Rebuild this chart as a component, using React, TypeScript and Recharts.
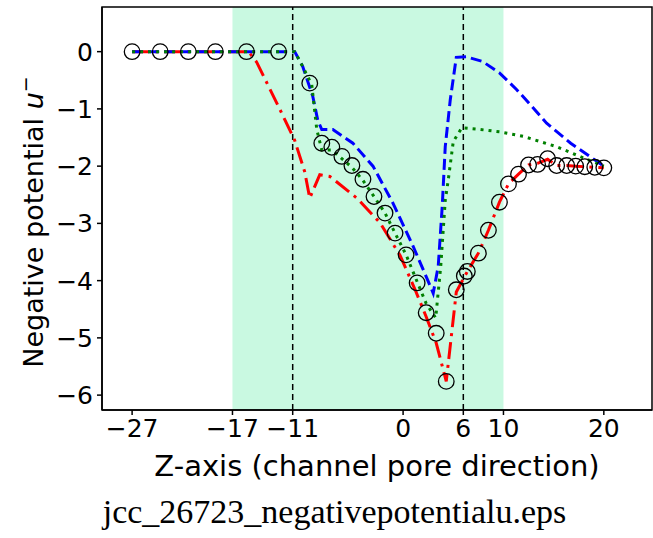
import {
  ComposedChart,
  Line,
  XAxis,
  YAxis,
  ReferenceArea,
  ReferenceLine,
} from "recharts";

// z positions and potential values
const circleZ = [-27, -24.2, -21.4, -18.7, -15.6, -12.4, -9.3, -8.1, -7.1, -6.1, -5.1, -4.0, -2.9, -1.8, -0.8, 0.3, 1.4, 2.3, 3.3, 4.3, 5.3, 6.1, 6.4, 7.5, 8.5, 9.6, 10.5, 11.5, 12.5, 13.4, 14.4, 15.3, 16.3, 17.2, 18.1, 19.1, 20];
const circleU = [0, 0, 0, 0, 0, 0, -0.55, -1.6, -1.67, -1.83, -1.99, -2.23, -2.53, -2.82, -3.17, -3.55, -4.04, -4.56, -4.92, -5.76, -4.16, -3.92, -3.84, -3.52, -3.12, -2.63, -2.31, -2.14, -1.98, -1.97, -1.87, -1.99, -1.99, -2.0, -2.01, -2.02, -2.03];

const redZ = [-27, -15.4, -14.6, -12.3, -10.8, -9.8, -9.3, -8.3, -7.3, -4.6, -2.3, -0.3, 1.2, 2.3, 3.3, 4.3, 5.3, 6.4, 7.5, 8.5, 9.6, 10.5, 11.5, 12.5, 13.4, 14.4, 15.3, 16.3, 17.2, 18.1, 19.1, 20];
const redU = [0, 0, -0.18, -1.0, -1.55, -2.1, -2.56, -2.15, -2.18, -2.56, -2.99, -3.56, -4.16, -4.63, -5.09, -5.76, -4.2, -3.84, -3.52, -3.12, -2.63, -2.31, -2.14, -1.98, -1.95, -1.88, -1.99, -1.99, -2.0, -2.01, -2.02, -2.03];

const blueZ = [-27, -10.8, -10, -9, -8.5, -8.1, -7, -5, -3, -1, 1, 2.3, 3.0, 3.5, 3.9, 4.2, 4.7, 5.3, 6.3, 7.9, 9.6, 11.3, 12.8, 14.3, 16.7, 18.6, 20];
const blueU = [0, 0, -0.26, -0.78, -1.2, -1.36, -1.36, -1.6, -2.0, -2.65, -3.4, -3.93, -4.22, -3.75, -2.7, -1.66, -0.84, -0.1, -0.09, -0.17, -0.37, -0.66, -0.95, -1.25, -1.6, -1.83, -2.0];

const greenZ = [-27, -10.8, -10, -9.1, -8.6, -8.1, -7.1, -6.1, -5.1, -4, -2.9, -1.8, -0.8, 0.3, 1.4, 2.3, 3.25, 3.75, 4.2, 4.5, 5.0, 5.85, 7.7, 9.6, 12, 15.3, 17.6, 20];
const greenU = [0, 0, -0.26, -0.58, -1.36, -1.72, -1.72, -1.87, -2.02, -2.25, -2.53, -2.82, -3.17, -3.55, -4.02, -4.4, -4.65, -3.75, -2.6, -2.24, -1.57, -1.33, -1.36, -1.4, -1.48, -1.66, -1.83, -2.0];

const xTicks = [-27, -17, -11, 0, 6, 10, 20];
const yTicks = [0, -1, -2, -3, -4, -5, -6];
const channelSpan = [-17, 10];
const markerLines = [-11, 6];

const X_DOMAIN: [number, number] = [-30, 24.8];
const Y_DOMAIN: [number, number] = [-6.26, 0.78];
const FONT = "DejaVu Sans";

const zip = (zs: number[], us: number[]) => zs.map((z, i) => ({ z, u: us[i] }));

const fmt = (v: number) => (v < 0 ? "\u2212" + Math.abs(v) : String(v));

function YTitle() {
  return (
    <text
      x={43}
      y={222}
      transform="rotate(-90 43 222)"
      textAnchor="middle"
      fontFamily={FONT}
      fontSize={27}
      fill="#000"
    >
      Negative potential <tspan fontStyle="italic">u</tspan>
      <tspan dy={-11} fontSize={19}>{"\u2212"}</tspan>
    </text>
  );
}

function XTitle() {
  return (
    <text x={377} y={476} textAnchor="middle" fontFamily={FONT} fontSize={29} fill="#000">
      Z-axis (channel pore direction)
    </text>
  );
}

export default function App() {
  const tick = { fontFamily: FONT, fontSize: 25, fill: "#000" };
  return (
    <div style={{ position: "absolute", left: 0, top: 0, width: 653, height: 538, background: "#fff" }}>
      <ComposedChart
        width={653}
        height={538}
        margin={{ top: 7, right: 1, bottom: 88, left: 0 }}
      >
        <XAxis
          xAxisId="b"
          type="number"
          dataKey="z"
          domain={X_DOMAIN}
          allowDataOverflow
          ticks={xTicks}
          tickFormatter={fmt}
          tick={tick}
          tickSize={5}
          tickMargin={4}
          height={40}
          stroke="#000"
          strokeWidth={1.5}
          label={<XTitle />}
        />
        <YAxis
          yAxisId="l"
          type="number"
          domain={Y_DOMAIN}
          allowDataOverflow
          ticks={yTicks}
          tickFormatter={fmt}
          tick={tick}
          tickSize={5}
          tickMargin={4}
          width={102}
          stroke="#000"
          strokeWidth={1.5}
          label={<YTitle />}
        />
        <ReferenceArea
          xAxisId="b"
          yAxisId="l"
          x1={channelSpan[0]}
          x2={channelSpan[1]}
          fill="#c9f9e1"
          fillOpacity={1}
          stroke="none"
        />
        {/* frame around the plot, like the matplotlib spines */}
        <ReferenceArea
          xAxisId="b"
          yAxisId="l"
          x1={X_DOMAIN[0]}
          x2={X_DOMAIN[1]}
          y1={Y_DOMAIN[0]}
          y2={Y_DOMAIN[1]}
          fill="none"
          stroke="#000"
          strokeWidth={1.5}
        />
        {markerLines.map((z) => (
          <ReferenceLine
            key={z}
            xAxisId="b"
            yAxisId="l"
            x={z}
            stroke="#000"
            strokeWidth={1.5}
            strokeDasharray="6 4"
          />
        ))}
        <Line
          xAxisId="b"
          yAxisId="l"
          data={zip(circleZ, circleU)}
          dataKey="u"
          stroke="none"
          dot={{ r: 7.8, fill: "none", stroke: "#000", strokeWidth: 1.3 }}
          activeDot={false}
          isAnimationActive={false}
        />
        <Line
          xAxisId="b"
          yAxisId="l"
          data={zip(redZ, redU)}
          dataKey="u"
          type="linear"
          stroke="#ff0000"
          strokeWidth={3}
          strokeDasharray="17 6 3 6"
          dot={false}
          activeDot={false}
          isAnimationActive={false}
        />
        <Line
          xAxisId="b"
          yAxisId="l"
          data={zip(blueZ, blueU)}
          dataKey="u"
          type="linear"
          stroke="#0000ff"
          strokeWidth={3}
          strokeDasharray="11 5"
          dot={false}
          activeDot={false}
          isAnimationActive={false}
        />
        <Line
          xAxisId="b"
          yAxisId="l"
          data={zip(greenZ, greenU)}
          dataKey="u"
          type="linear"
          stroke="#008000"
          strokeWidth={3}
          strokeDasharray="3 5"
          dot={false}
          activeDot={false}
          isAnimationActive={false}
        />
      </ComposedChart>
      <div
        style={{
          position: "absolute",
          left: 8,
          width: 653,
          top: 492,
          textAlign: "center",
          fontFamily: "Liberation Serif",
          fontSize: 34,
          lineHeight: "40px",
          color: "#000",
        }}
      >
        jcc_26723_negativepotentialu.eps
      </div>
    </div>
  );
}
